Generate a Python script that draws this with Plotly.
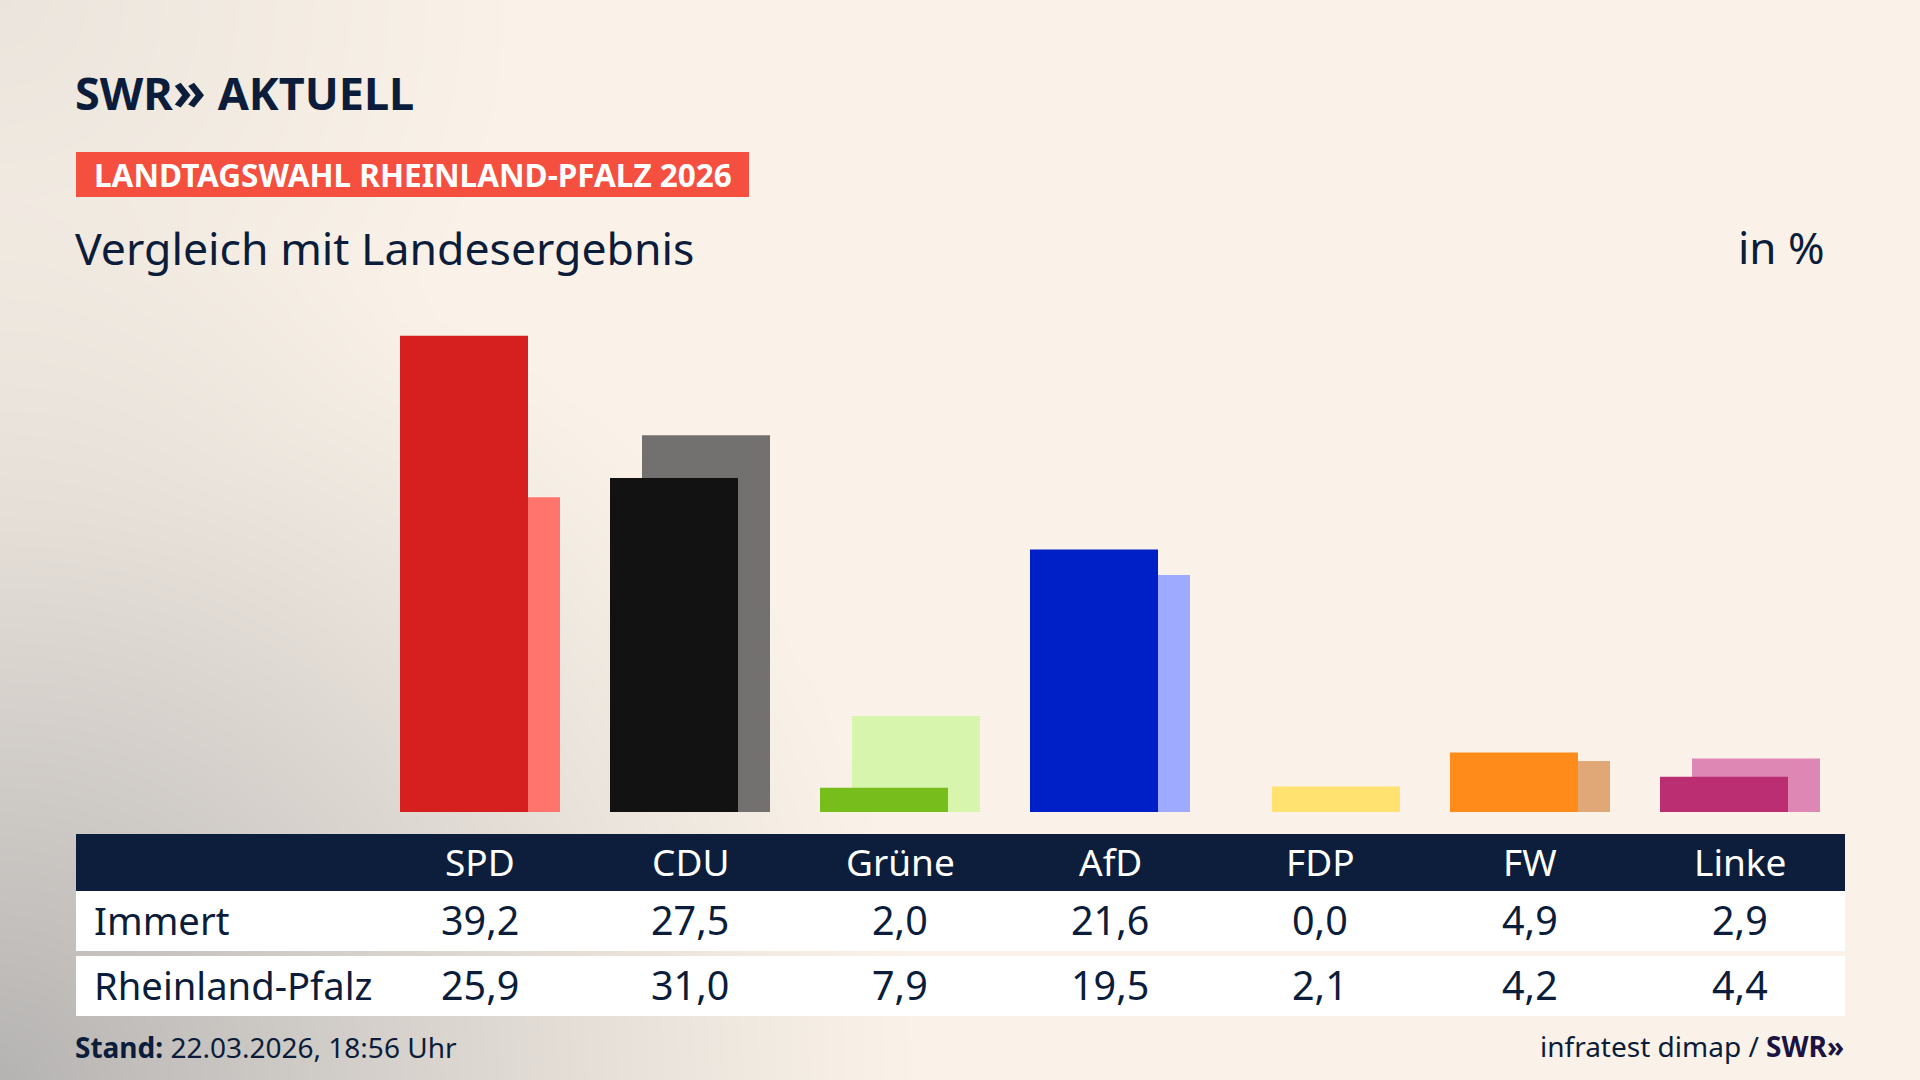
import numpy as np
import plotly.graph_objects as go

# ---------------- data ----------------
parties = ["SPD", "CDU", "Grüne", "AfD", "FDP", "FW", "Linke"]
immert = [39.2, 27.5, 2.0, 21.6, 0.0, 4.9, 2.9]
rlp = [25.9, 31.0, 7.9, 19.5, 2.1, 4.2, 4.4]
row_labels = ["Immert", "Rheinland-Pfalz"]
colors_main = ["#d61f1f", "#121212", "#77bd1b", "#0020c7", "#ffd600", "#ff8c1a", "#bc2e72"]
colors_light = ["#ff756e", "#73716f", "#d7f5ac", "#9eaaff", "#ffe26f", "#e0a876", "#de87b4"]

title_text = "SWR<span style='font-size:54px'>»</span> AKTUELL"
label_text = "LANDTAGSWAHL RHEINLAND-PFALZ 2026"
subtitle_text = "Vergleich mit Landesergebnis"
unit_text = "in %"
stand_text = "<b>Stand:</b> 22.03.2026, 18:56 Uhr"
source_text = "infratest dimap / <b><span style='color:#1b1442'>SWR»</span></b>"

W, H = 1920, 1080
NAVY = "#0b1d3a"
CREAM = "#faf2e8"
FONT = "Noto Sans"


def fmt(v):
    return f"{v:.1f}".replace(".", ",")


def px(x):
    return x / W


def py(y):
    return 1 - y / H


fig = go.Figure()

# ---------------- background gradient ----------------
gx = np.arange(0, W + 1, 40)
gy = np.arange(0, H + 1, 40)
GX, GY = np.meshgrid(gx, gy)
d1 = np.sqrt((GX / 920.0) ** 2 + ((H - GY) / 880.0) ** 2)
w1 = np.clip(1 - d1, 0, 1) ** 1.15
d2 = np.sqrt((GX / 520.0) ** 2 + (GY / 520.0) ** 2)
w2 = 0.22 * np.clip(1 - d2, 0, 1)
wz = 1 - (1 - w1) * (1 - w2)
fig.add_trace(go.Heatmap(x=gx, y=gy, z=wz, zmin=0, zmax=1, zsmooth="best",
                         colorscale=[[0, CREAM], [1, "#b5b3b2"]], showscale=False,
                         hoverinfo="skip", xaxis="x", yaxis="y"))

# ---------------- bars ----------------
xs = list(range(len(parties)))
UNIT = 210.0
bw = 128 / UNIT
fig.add_trace(go.Bar(x=xs, y=rlp, marker=dict(color=colors_light, line=dict(width=0)),
                     width=bw, offset=-48 / UNIT, xaxis="x2", yaxis="y2",
                     hoverinfo="skip", name="Rheinland-Pfalz"))
fig.add_trace(go.Bar(x=xs, y=immert, marker=dict(color=colors_main, line=dict(width=0)),
                     width=bw, offset=-80 / UNIT, xaxis="x2", yaxis="y2",
                     hoverinfo="skip", name="Immert"))

x0 = -480 / UNIT
x1 = x0 + W / UNIT
base_px = 812
top_px = 300
ppu = 12.15
y_top_val = (base_px - top_px) / ppu

shapes = []
annotations = []

# red label box
shapes.append(dict(type="rect", xref="paper", yref="paper", x0=px(76), x1=px(749),
                   y0=py(197), y1=py(152), fillcolor="#f44f3f", line=dict(width=0), layer="above"))
# table
shapes.append(dict(type="rect", xref="paper", yref="paper", x0=px(76), x1=px(1845),
                   y0=py(891), y1=py(834), fillcolor="#0c1e3c", line=dict(width=0), layer="above"))
shapes.append(dict(type="rect", xref="paper", yref="paper", x0=px(76), x1=px(1845),
                   y0=py(951), y1=py(891), fillcolor="#ffffff", line=dict(width=0), layer="above"))
shapes.append(dict(type="rect", xref="paper", yref="paper", x0=px(76), x1=px(1845),
                   y0=py(1016), y1=py(956), fillcolor="#ffffff", line=dict(width=0), layer="above"))

# titles
annotations.append(dict(text="<b>" + title_text + "</b>", x=px(73), y=py(89), xref="paper", yref="paper",
                        xanchor="left", yanchor="middle", showarrow=False,
                        font=dict(family=FONT, size=45, color=NAVY)))
annotations.append(dict(text="<b>" + label_text + "</b>", x=px(92), y=py(175), xref="paper", yref="paper",
                        xanchor="left", yanchor="middle", showarrow=False,
                        font=dict(family=FONT, size=31.5, color="#ffffff")))
annotations.append(dict(text=subtitle_text, x=px(73), y=py(247), xref="paper", yref="paper",
                        xanchor="left", yanchor="middle", showarrow=False,
                        font=dict(family=FONT, size=44.6, color=NAVY)))
annotations.append(dict(text=unit_text, x=px(1827), y=py(247), xref="paper", yref="paper",
                        xanchor="right", yanchor="middle", showarrow=False,
                        font=dict(family=FONT, size=44, color=NAVY)))

# table header + values
for i, p in enumerate(parties):
    annotations.append(dict(text=p, x=i, y=py(861), xref="x2", yref="paper",
                            xanchor="center", yanchor="middle", showarrow=False,
                            font=dict(family=FONT, size=37, color="#ffffff")))
    annotations.append(dict(text=fmt(immert[i]), x=i, y=py(920), xref="x2", yref="paper",
                            xanchor="center", yanchor="middle", showarrow=False,
                            font=dict(family=FONT, size=39.5, color=NAVY)))
    annotations.append(dict(text=fmt(rlp[i]), x=i, y=py(985), xref="x2", yref="paper",
                            xanchor="center", yanchor="middle", showarrow=False,
                            font=dict(family=FONT, size=39.5, color=NAVY)))
for lab, yy in zip(row_labels, [920, 985]):
    annotations.append(dict(text=lab, x=px(92), y=py(yy), xref="paper", yref="paper",
                            xanchor="left", yanchor="middle", showarrow=False,
                            font=dict(family=FONT, size=38.2, color=NAVY)))

# footer
annotations.append(dict(text=stand_text, x=px(73), y=py(1047), xref="paper", yref="paper",
                        xanchor="left", yanchor="middle", showarrow=False,
                        font=dict(family=FONT, size=28, color=NAVY)))
annotations.append(dict(text=source_text, x=px(1846), y=py(1046), xref="paper", yref="paper",
                        xanchor="right", yanchor="middle", showarrow=False,
                        font=dict(family=FONT, size=28, color=NAVY)))

fig.update_layout(
    width=W, height=H,
    margin=dict(l=0, r=0, t=0, b=0),
    paper_bgcolor=CREAM, plot_bgcolor="rgba(0,0,0,0)",
    showlegend=False, barmode="overlay",
    xaxis=dict(domain=[0, 1], range=[0, W], visible=False, fixedrange=True),
    yaxis=dict(domain=[0, 1], range=[H, 0], visible=False, fixedrange=True),
    xaxis2=dict(domain=[0, 1], range=[x0, x1], visible=False, anchor="y2", fixedrange=True),
    yaxis2=dict(domain=[py(base_px), py(top_px)], range=[0, y_top_val], visible=False,
                anchor="x2", fixedrange=True),
    shapes=shapes, annotations=annotations,
)

fig.write_html("out.html", config={"displayModeBar": False, "staticPlot": True},
               post_script="document.body.style.margin='0';document.body.style.overflow='hidden';")
